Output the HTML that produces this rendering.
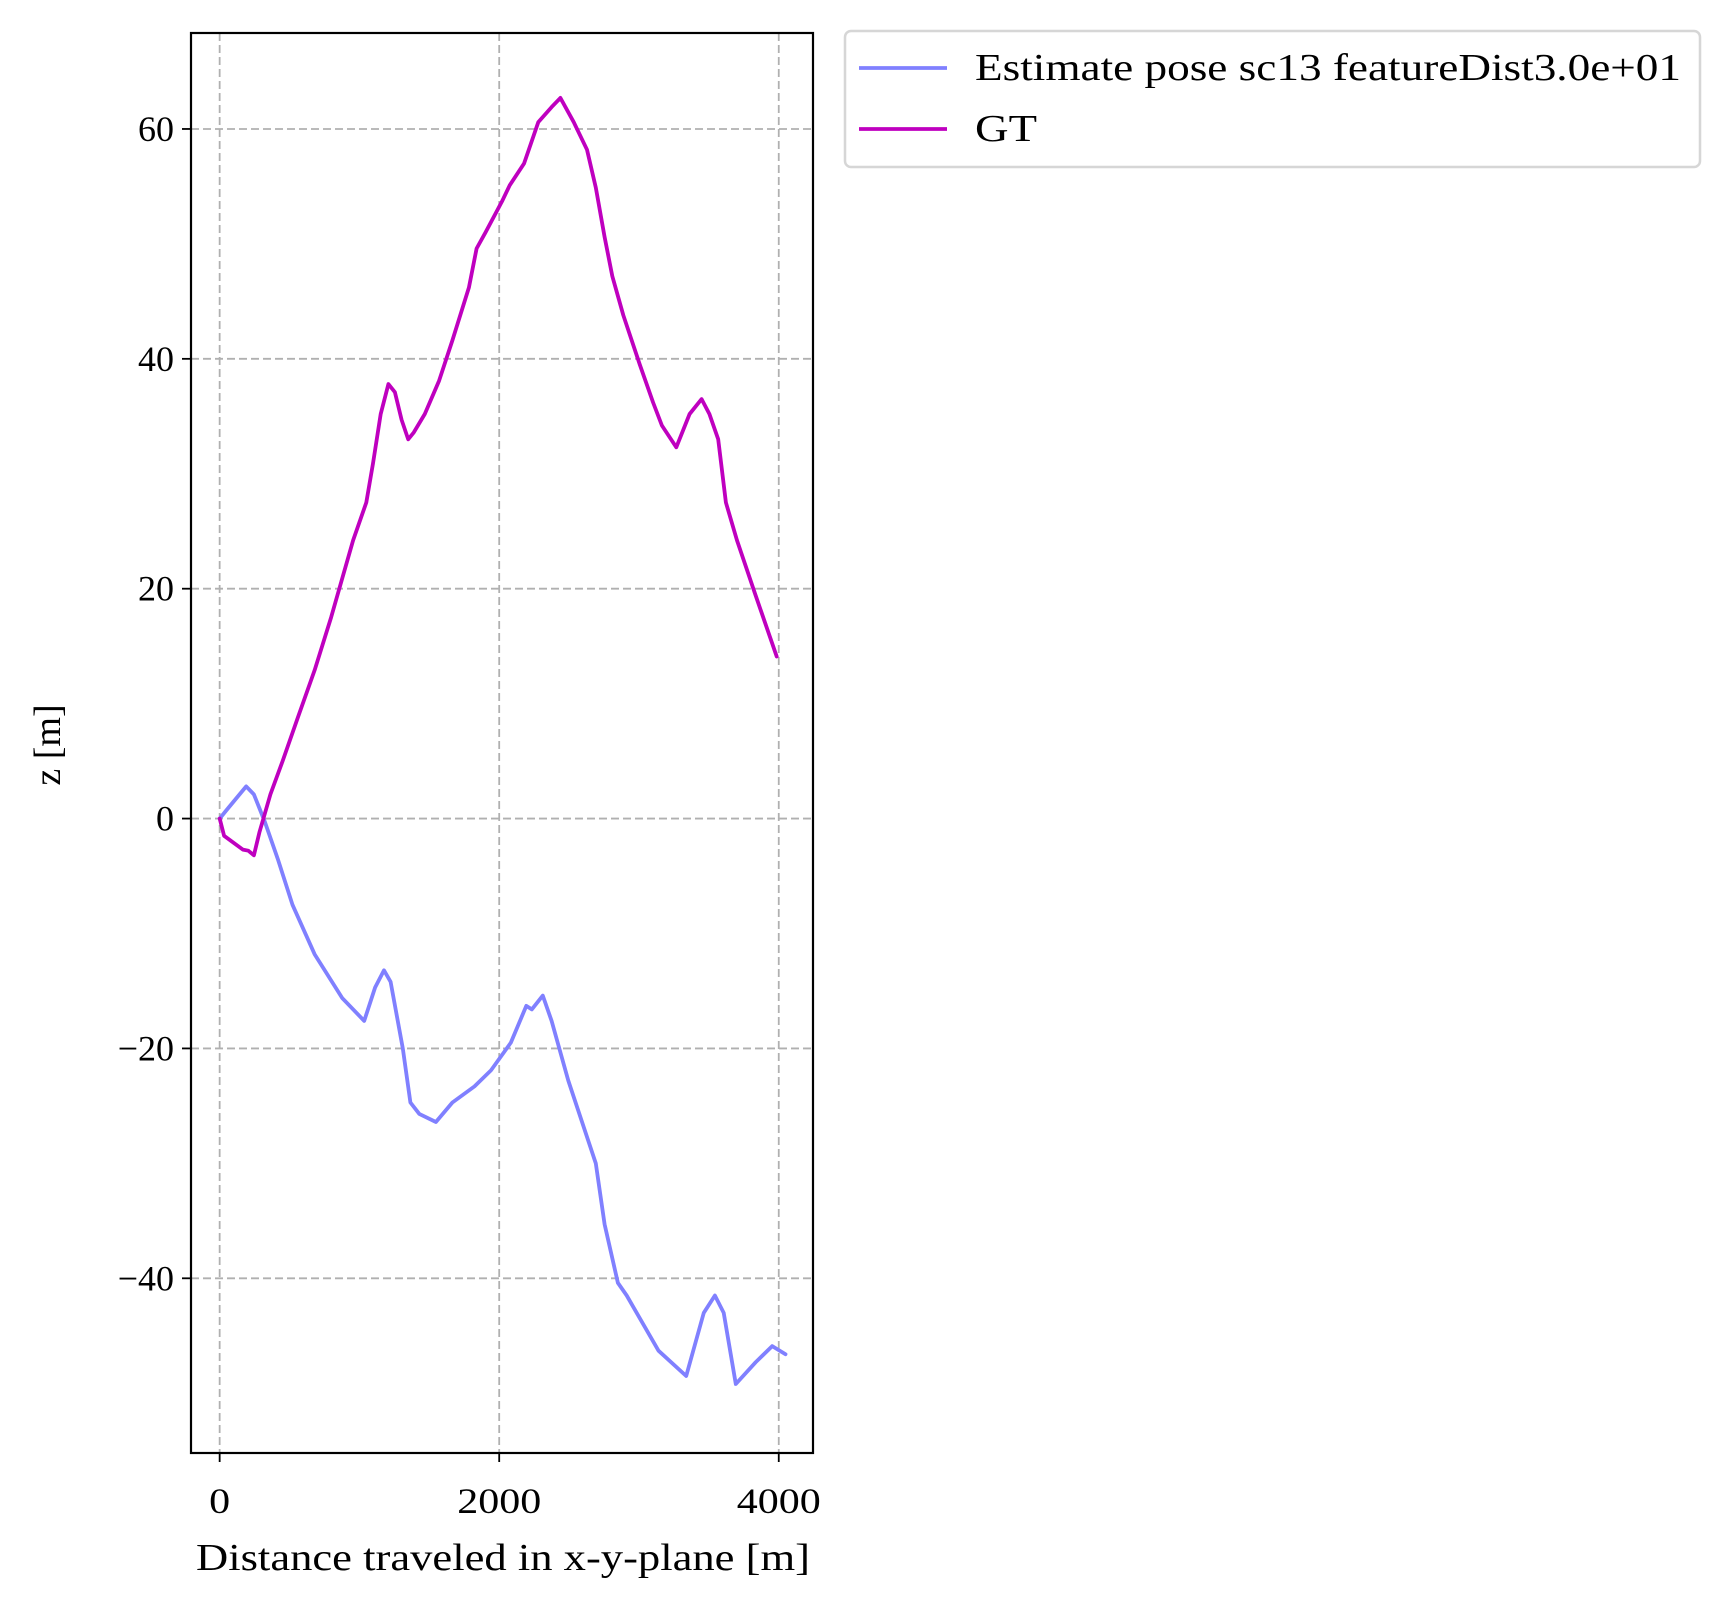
<!DOCTYPE html>
<html><head><meta charset="utf-8"><style>
body{margin:0;background:#fff}
svg text{font-family:"Liberation Serif","DejaVu Serif",serif;fill:#000}
</style></head><body>
<svg id="chart" width="1730" height="1610" viewBox="0 0 1730 1610" xmlns="http://www.w3.org/2000/svg"></svg>
<script>
const xTicks=[0,2000,4000];
const yTicks=[-40,-20,0,20,40,60];
const gtX=[0,32,166,205,245,284,363,450,560,679,797,955,1049,1097,1152,1207,1254,1302,1349,1389,1468,1570,1665,1783,1838,1902,2020,2075,2178,2280,2375,2438,2533,2628,2691,2754,2809,2888,3006,3101,3164,3267,3362,3448,3504,3567,3622,3701,3835,3985];
const gtZ=[0,-1.5,-2.7,-2.8,-3.2,-1.2,2.1,5,8.8,12.9,17.5,24.2,27.5,30.9,35.2,37.8,37.1,34.7,33,33.6,35.2,38.1,41.6,46.2,49.6,51,53.7,55.1,57,60.6,61.9,62.7,60.6,58.2,54.9,50.6,47.2,43.8,39.5,36.2,34.2,32.3,35.2,36.5,35.2,33,27.5,24.2,19.4,14.1];
const estX=[0,47,190,245,324,418,521,679,876,1034,1112,1176,1223,1310,1365,1428,1547,1665,1823,1941,2083,2194,2233,2312,2375,2494,2691,2754,2849,2912,3140,3338,3464,3543,3606,3693,3835,3953,4048];
const estZ=[0,0.7,2.8,2.1,-0.3,-3.6,-7.5,-11.8,-15.6,-17.6,-14.7,-13.2,-14.2,-20,-24.7,-25.7,-26.4,-24.7,-23.3,-21.9,-19.5,-16.3,-16.6,-15.4,-17.6,-22.8,-30,-35.3,-40.4,-41.5,-46.3,-48.5,-43,-41.5,-43,-49.2,-47.3,-45.9,-46.6];

const NS='http://www.w3.org/2000/svg';
const svg=document.getElementById('chart');
const L=191,R=813,T=33,B=1453;
const xmin=-205,xmax=4245,ymin=-55.2,ymax=68.35;
const sx=v=>L+(v-xmin)/(xmax-xmin)*(R-L);
const sy=v=>B-(v-ymin)/(ymax-ymin)*(B-T);
function mk(tag,attrs,parent){const e=document.createElementNS(NS,tag);for(const k in attrs)e.setAttribute(k,attrs[k]);(parent||svg).appendChild(e);return e;}

const grid=mk('g',{});


xTicks.forEach(t=>{
  const l=mk('line',{x1:sx(t),x2:sx(t),y1:T,y2:B,stroke:'#b0b0b0','stroke-width':1.8,'stroke-dasharray':'8,4'},grid);
  
  
  const tk=mk('line',{x1:sx(t),x2:sx(t),y1:B,y2:B+9,stroke:'#000','stroke-width':1.8});
  
  
  const s=String(t);
  const tx=mk('text',{x:sx(t),y:B+60,'text-anchor':'middle','font-size':36,textLength:21*s.length,lengthAdjust:'spacingAndGlyphs'});
  tx.textContent=s;
  
  
});
yTicks.forEach(t=>{
  const l=mk('line',{x1:L,x2:R,y1:sy(t),y2:sy(t),stroke:'#b0b0b0','stroke-width':1.8,'stroke-dasharray':'8,4'},grid);
  
  
  const tk=mk('line',{x1:L-9,x2:L,y1:sy(t),y2:sy(t),stroke:'#000','stroke-width':1.8});
  
  
  const tx=mk('text',{x:L-17,y:sy(t)+12,'text-anchor':'end','font-size':36});
  tx.textContent=t<0?'\u2212'+Math.abs(t):String(t);
  
  
});
function series(xs,ys,color,name){
  const p=mk('polyline',{points:xs.map((x,i)=>sx(x).toFixed(1)+','+sy(ys[i]).toFixed(1)).join(' '),fill:'none',stroke:color,'stroke-width':3.8,'stroke-linejoin':'round','stroke-linecap':'round'});
  
  
}
series(estX,estZ,'#8080ff','estimate-line');
series(gtX,gtZ,'#bf00bf','gt-line');
const frame=mk('rect',{x:L,y:T,width:R-L,height:B-T,fill:'none',stroke:'#000','stroke-width':2.2});


const xl=mk('text',{x:(L+R)/2+1,y:1570,'text-anchor':'middle','font-size':38,textLength:614,lengthAdjust:'spacingAndGlyphs'});
xl.textContent='Distance traveled in x-y-plane [m]';


const yl=mk('text',{x:0,y:0,'text-anchor':'middle','font-size':38,transform:'translate(60,745) rotate(-90)'});
yl.textContent='z [m]';


const lg=mk('g',{});


mk('rect',{x:845,y:31,width:855,height:136,rx:6,fill:'#fff',stroke:'#d6d6d6','stroke-width':2.5},lg);
[['Estimate pose sc13 featureDist3.0e+01','#8080ff',68,706],['GT','#bf00bf',129,62]].forEach(([t,c,y,w])=>{
  const ln=mk('line',{x1:859,x2:947,y1:y,y2:y,stroke:c,'stroke-width':3.8},lg);
  
  
  const tx=mk('text',{x:975,y:y+12,'font-size':38,textLength:w,lengthAdjust:'spacingAndGlyphs'},lg);
  tx.textContent=t;
  
  
});
</script>
</body></html>
